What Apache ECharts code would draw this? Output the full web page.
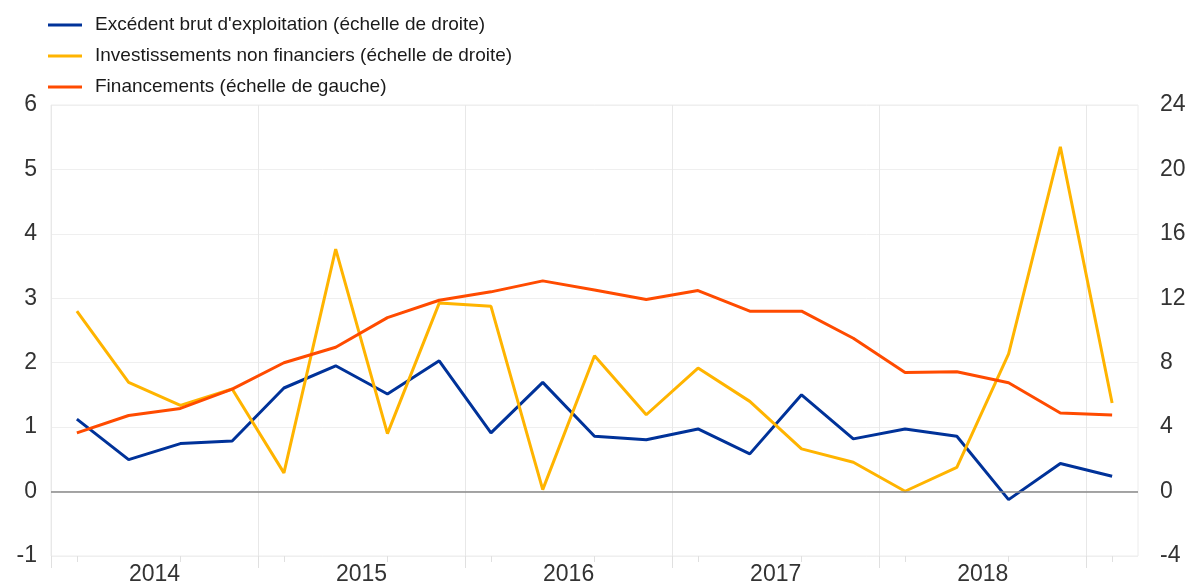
<!DOCTYPE html>
<html>
<head>
<meta charset="utf-8">
<script src="https://cdn.jsdelivr.net/npm/echarts@6/dist/echarts.min.js"></script>
<style>html,body{margin:0;padding:0;background:#fff}#c{width:1194px;height:584px}</style>
</head>
<body>
<div id="c"></div>
<script>
var quarters = ['2014T1','2014T2','2014T3','2014T4','2015T1','2015T2','2015T3','2015T4','2016T1','2016T2','2016T3','2016T4','2017T1','2017T2','2017T3','2017T4','2018T1','2018T2','2018T3','2018T4','2019T1'];
var years = ['2014','2015','2016','2017','2018'];
var seriesNames = ["Excédent brut d'exploitation (échelle de droite)", "Investissements non financiers (échelle de droite)", "Financements (échelle de gauche)"];
var excedent = [4.5,1.98,2.98,3.14,6.43,7.81,6.06,8.12,3.64,6.78,3.43,3.22,3.89,2.34,6.01,3.27,3.89,3.43,-0.5,1.74,0.95];
var investissements = [11.2,6.78,5.35,6.37,1.16,15.05,3.6,11.7,11.5,0.12,8.43,4.77,7.67,5.6,2.65,1.82,0.02,1.5,8.55,21.4,5.5];
var financements = [0.91,1.18,1.29,1.59,2.0,2.24,2.70,2.97,3.10,3.27,3.13,2.98,3.12,2.80,2.80,2.38,1.85,1.86,1.69,1.22,1.19];
var yearBoundaries = [0,4,8,12,16,20];
var yearCenters = [2,6,10,14,18];

var font = 'Liberation Sans, Arial, sans-serif';
var chart = echarts.init(document.getElementById('c'), null, {renderer: 'canvas'});
chart.setOption({
  animation: false,
  backgroundColor: '#fff',
  color: ['#003299', '#FFB400', '#FF4B00'],
  legend: {
    orient: 'vertical', left: 43, top: 10,
    icon: 'rect', itemWidth: 34, itemHeight: 3, itemGap: 11,
    textStyle: {fontFamily: font, fontSize: 19, color: '#1a1a1a', lineHeight: 20, padding: [0,0,0,8]},
    data: seriesNames
  },
  grid: {left: 51, right: 56, top: 105, bottom: 28, outerBoundsMode: 'none', containLabel: false,
    show: true, borderColor: '#ececec', borderWidth: 1},
  xAxis: [{
    type: 'category', data: quarters, boundaryGap: true, position: 'bottom',
    axisLine: {show: false, onZero: false},
    axisTick: {show: true, alignWithLabel: true, length: 6, lineStyle: {color: '#e0e0e0'}},
    axisLabel: {show: false},
    splitLine: {show: false}
  }, {
    type: 'value', min: 0, max: quarters.length, position: 'bottom',
    axisLine: {show: false, onZero: false},
    axisTick: {show: true, customValues: yearBoundaries, length: 12, lineStyle: {color: '#e0e0e0'}},
    axisLabel: {show: true, customValues: yearCenters, margin: 7, fontFamily: font, fontSize: 23, color: '#333',
      formatter: function (v) { return years[Math.round((v - 2) / 4)]; }},
    splitLine: {show: true, lineStyle: {color: '#e8e8e8'}}
  }],
  yAxis: [{
    type: 'value', min: -1, max: 6, interval: 1, position: 'left',
    axisLine: {show: false}, axisTick: {show: false},
    axisLabel: {margin: 14, fontFamily: font, fontSize: 23, color: '#333'},
    splitLine: {show: true, lineStyle: {color: '#efefef'}}
  }, {
    type: 'value', min: -4, max: 24, interval: 4, position: 'right',
    axisLine: {show: false}, axisTick: {show: false},
    axisLabel: {margin: 22, fontFamily: font, fontSize: 23, color: '#333'},
    splitLine: {show: false}
  }],
  series: [{
    name: seriesNames[0], type: 'line', xAxisIndex: 0, yAxisIndex: 1, data: excedent,
    symbol: 'none', lineStyle: {width: 3}
  }, {
    name: seriesNames[1], type: 'line', xAxisIndex: 0, yAxisIndex: 1, data: investissements,
    symbol: 'none', lineStyle: {width: 3}
  }, {
    name: seriesNames[2], type: 'line', xAxisIndex: 0, yAxisIndex: 0, data: financements,
    symbol: 'none', lineStyle: {width: 3},
    markLine: {silent: true, symbol: 'none', label: {show: false},
      lineStyle: {color: '#888', width: 1.5, type: 'solid'}, data: [{yAxis: 0}]}
  }]
});
</script>
</body>
</html>
